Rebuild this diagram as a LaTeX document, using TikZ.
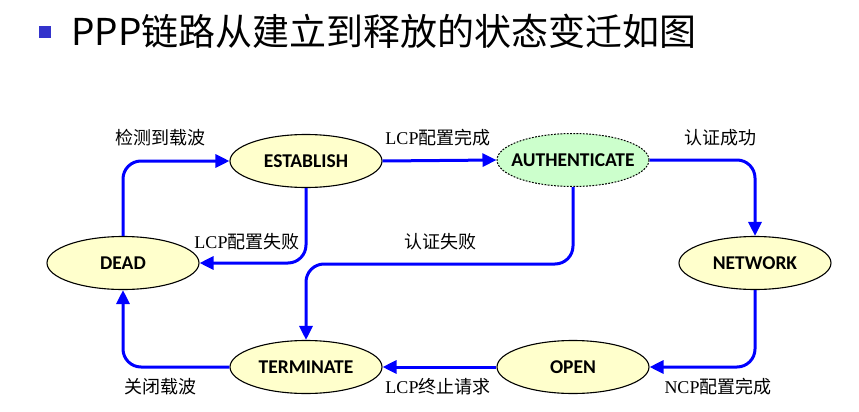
\documentclass[tikz,border=0pt]{standalone}
\usepackage{fontspec}
\setmainfont{Liberation Serif}
\newfontfamily\cjk{Noto Sans CJK SC}
\newfontfamily\nodefont[BoldFont={Carlito Bold}]{Carlito}
\usetikzlibrary{shapes.geometric,arrows.meta}
\definecolor{stateyellow}{HTML}{FFFFCC}
\definecolor{stategreen}{HTML}{CCFFCC}
\definecolor{arrowblue}{RGB}{0,0,255}
\definecolor{bulletblue}{HTML}{3333CC}
\newcommand{\statetext}[1]{\makebox[0pt]{#1}}
\tikzset{
  statenode/.style={ellipse,draw=black,line width=1.1pt,fill=stateyellow,
    minimum width=152pt,minimum height=53pt,inner sep=0pt,
    font=\nodefont\bfseries\fontsize{19.5}{21}\selectfont},
  authnode/.style={statenode,fill=stategreen,dash pattern=on 1.8pt off 1.4pt,line width=1pt},
  flow/.style={draw=arrowblue,line width=3pt,rounded corners=18pt,
    -{Triangle[length=14pt,width=13pt]}},
  lbl/.style={font=\fontsize{18}{20}\selectfont,inner sep=0pt},
}
\begin{document}
\begin{tikzpicture}[x=1pt,y=-1pt]
\useasboundingbox (0,0) rectangle (859,412);
% title
\fill[bulletblue] (38.5,26.5) rectangle (50.5,38.5);
\node[anchor=west,inner sep=0pt,font=\cjk\fontsize{37}{40}\selectfont] (title) at (71,31) {PPP链路从建立到释放的状态变迁如图};
% states
\node[statenode] (dead) at (123,263) {\statetext{DEAD}};
\node[statenode] (est) at (306,161) {\statetext{ESTABLISH}};
\node[authnode] (auth) at (573,160) {\statetext{AUTHENTICATE}};
\node[statenode] (net) at (755,263) {\statetext{NETWORK}};
\node[statenode] (term) at (306,367) {\statetext{TERMINATE}};
\node[statenode] (open) at (573,367) {\statetext{OPEN}};
\coordinate (af) at (440,264);
% connectors
\draw[flow] (dead.north) |- (est.west);
\draw[flow] (est.south) |- (dead.east);
\draw[flow] (est.east) -- (auth.west);
\draw[flow] (auth.east) -| (net.north);
\draw[flow] (auth.south) |- (af) -| (term.north);
\draw[flow] (net.south) |- (open.east);
\draw[flow] (open.west) -- (term.east);
\draw[flow] (term.west) -| (dead.south);
% labels
\node[lbl] (l1) at (160,138) {\cjk 检测到载波};
\node[lbl] (l2) at (438,138) {LCP\cjk 配置完成};
\node[lbl] (l3) at (247,242) {LCP\cjk 配置失败};
\node[lbl] (l4) at (440,242) {\cjk 认证失败};
\node[lbl] (l5) at (720,138) {\cjk 认证成功};
\node[lbl] (l6) at (160,387) {\cjk 关闭载波};
\node[lbl] (l7) at (438,387) {LCP\cjk 终止请求};
\node[lbl] (l8) at (718,387) {NCP\cjk 配置完成};
\end{tikzpicture}
\end{document}
